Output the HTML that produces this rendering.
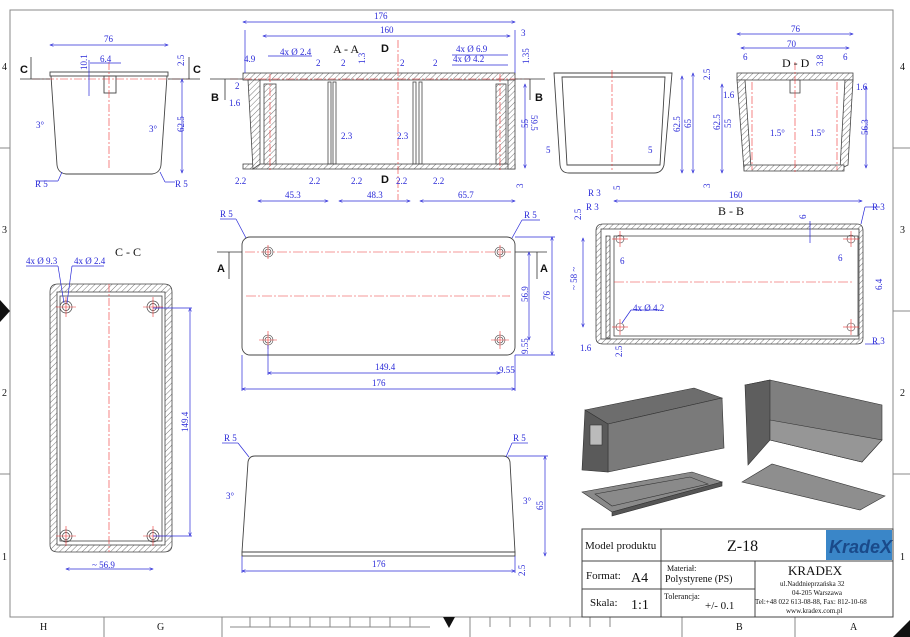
<!DOCTYPE html>
<html><head><meta charset="utf-8"><style>
html,body{margin:0;padding:0;background:#fff;}
svg{display:block;font-family:"Liberation Serif",serif;}
.d{fill:#2a2ad8;font-size:9px;}
.k{fill:#111;}
</style></head><body>
<svg width="910" height="637" viewBox="0 0 910 637" xmlns="http://www.w3.org/2000/svg">
<defs>
<pattern id="h" width="4" height="4" patternUnits="userSpaceOnUse" patternTransform="rotate(45)">
<rect width="4" height="4" fill="#fff"/><line x1="0" y1="0" x2="0" y2="4" stroke="#555" stroke-width="0.8"/></pattern>
<marker id="a" markerWidth="6" markerHeight="6" refX="5" refY="3" orient="auto-start-reverse"><path d="M0,1 L5,3 L0,5" fill="none" stroke="#2a2ad8" stroke-width="0.8"/></marker>
</defs>
<!-- frame -->
<rect x="10" y="10" width="883" height="607" fill="none" stroke="#888" stroke-width="1"/>
<g stroke="#888" stroke-width="1">
<line x1="0" y1="148" x2="10" y2="148"/><line x1="0" y1="311" x2="10" y2="311"/><line x1="0" y1="474" x2="10" y2="474"/>
<line x1="893" y1="148" x2="910" y2="148"/><line x1="893" y1="311" x2="910" y2="311"/><line x1="893" y1="474" x2="910" y2="474"/>
<line x1="104" y1="617" x2="104" y2="637"/><line x1="222" y1="617" x2="222" y2="637"/><line x1="682" y1="617" x2="682" y2="637"/><line x1="795" y1="617" x2="795" y2="637"/>
<line x1="230" y1="627" x2="430" y2="627"/>
<line x1="250" y1="617" x2="250" y2="627"/><line x1="270" y1="617" x2="270" y2="627"/><line x1="290" y1="617" x2="290" y2="627"/><line x1="310" y1="617" x2="310" y2="627"/><line x1="330" y1="617" x2="330" y2="627"/><line x1="350" y1="617" x2="350" y2="627"/><line x1="370" y1="617" x2="370" y2="627"/><line x1="390" y1="617" x2="390" y2="627"/><line x1="410" y1="617" x2="410" y2="627"/>
<line x1="470" y1="617" x2="470" y2="637"/><line x1="490" y1="617" x2="490" y2="627"/><line x1="510" y1="617" x2="510" y2="627"/><line x1="530" y1="617" x2="530" y2="627"/><line x1="550" y1="617" x2="550" y2="627"/><line x1="570" y1="617" x2="570" y2="627"/><line x1="590" y1="617" x2="590" y2="627"/><line x1="610" y1="617" x2="610" y2="627"/>
</g>
<g class="k" font-size="10">
<text x="2" y="70">4</text><text x="2" y="233">3</text><text x="2" y="396">2</text><text x="2" y="560">1</text>
<text x="900" y="70">4</text><text x="900" y="233">3</text><text x="900" y="396">2</text><text x="900" y="560">1</text>
<text x="40" y="630">H</text><text x="157" y="630">G</text><text x="736" y="630">B</text><text x="850" y="630">A</text>
</g>
<path d="M0,300 L10,311 L0,322Z" fill="#111"/><path d="M443,617 L455,617 L449,628Z" fill="#111"/>
<path d="M893,637 L910,620 L910,637Z" fill="#111"/>

<!-- View 1: end view -->
<g fill="none" stroke="#444" stroke-width="0.9">
<rect x="50" y="72" width="118" height="4"/>
<path d="M51,76 L57,165 Q58,173 66,174 L152,174 Q160,173 161,165 L167,76"/>
<rect x="104" y="76" width="12" height="17"/>
</g>
<g stroke="#e33" stroke-width="0.6" stroke-dasharray="8,2,2,2"><line x1="32" y1="79" x2="190" y2="79"/><line x1="109" y1="62" x2="109" y2="170"/></g>
<g stroke="#333" stroke-width="0.8"><line x1="20" y1="79" x2="50" y2="79"/><line x1="168" y1="79" x2="200" y2="79"/><line x1="31" y1="57" x2="31" y2="79"/><line x1="189" y1="57" x2="189" y2="79"/></g>
<text x="20" y="73" class="k" font-weight="bold" font-size="11" font-family="Liberation Sans">C</text><text x="193" y="73" class="k" font-weight="bold" font-size="11" font-family="Liberation Sans">C</text>
<g stroke="#2a2ad8" stroke-width="0.7" fill="none">
<line x1="50" y1="45" x2="168" y2="45" marker-start="url(#a)" marker-end="url(#a)"/>
<line x1="182" y1="79" x2="182" y2="173" marker-start="url(#a)" marker-end="url(#a)"/>
<line x1="90" y1="63" x2="121" y2="63"/><line x1="89" y1="60" x2="89" y2="96"/>
<line x1="36" y1="181" x2="58" y2="181"/><line x1="58" y1="181" x2="62" y2="172"/>
<line x1="165" y1="182" x2="175" y2="182"/><line x1="165" y1="182" x2="160" y2="172"/>
</g>
<g class="d"><text x="104" y="42">76</text><text x="100" y="62">6.4</text><text x="35" y="187">R 5</text><text x="175" y="187">R 5</text><text x="36" y="128">3°</text><text x="149" y="132">3°</text>
<text transform="translate(184,132) rotate(-90)">62.5</text><text transform="translate(87,70) rotate(-90)">10.1</text><text transform="translate(184,66) rotate(-90)">2.5</text></g>

<!-- A-A section -->
<g stroke="#444" stroke-width="0.8">
<rect x="243" y="73" width="272" height="7" fill="url(#h)"/>
<rect x="243" y="164" width="272" height="5" fill="url(#h)"/>
<path d="M248,80 L260,80 L260,164 L253,169 Z" fill="url(#h)"/>
<rect x="264" y="84" width="12" height="80" fill="url(#h)"/>
<rect x="496" y="84" width="10" height="80" fill="url(#h)"/>
<path d="M508,80 L515,80 L515,169 L508,169 Z" fill="url(#h)"/>
<g fill="none"><rect x="328" y="82" width="3" height="82"/><rect x="333" y="82" width="3" height="82"/><rect x="413" y="82" width="3" height="82"/><rect x="419" y="82" width="3" height="82"/></g>
</g>
<g stroke="#e33" stroke-width="0.6" stroke-dasharray="8,2,2,2"><line x1="230" y1="79" x2="530" y2="79"/><line x1="270" y1="74" x2="270" y2="170"/><line x1="500" y1="74" x2="500" y2="170"/><line x1="398" y1="40" x2="398" y2="200"/></g>
<g stroke="#333" stroke-width="0.8"><line x1="210" y1="79" x2="243" y2="79"/><line x1="515" y1="79" x2="545" y2="79"/><line x1="225" y1="79" x2="225" y2="100"/><line x1="530" y1="79" x2="530" y2="100"/></g>
<g class="k" font-weight="bold" font-size="11" font-family="Liberation Sans"><text x="211" y="101">B</text><text x="535" y="101">B</text><text x="381" y="52">D</text><text x="381" y="183">D</text></g>
<text x="333" y="53" class="k" font-size="12">A - A</text>
<g stroke="#2a2ad8" stroke-width="0.7" fill="none">
<line x1="243" y1="22" x2="515" y2="22" marker-start="url(#a)" marker-end="url(#a)"/>
<line x1="263" y1="36" x2="510" y2="36" marker-start="url(#a)" marker-end="url(#a)"/>
<line x1="258" y1="201" x2="328" y2="201" marker-start="url(#a)" marker-end="url(#a)"/>
<line x1="339" y1="201" x2="410" y2="201" marker-start="url(#a)" marker-end="url(#a)"/>
<line x1="420" y1="201" x2="515" y2="201" marker-start="url(#a)" marker-end="url(#a)"/>
<line x1="525" y1="84" x2="525" y2="168" marker-start="url(#a)" marker-end="url(#a)"/>
<line x1="245" y1="73" x2="245" y2="30"/><line x1="515" y1="73" x2="515" y2="30"/>
<line x1="268" y1="56" x2="312" y2="56"/><line x1="452" y1="55" x2="508" y2="55"/><line x1="452" y1="65" x2="508" y2="65"/>
</g>
<g class="d"><text x="374" y="19">176</text><text x="380" y="33">160</text><text x="280" y="55">4x Ø 2.4</text><text x="456" y="52">4x Ø 6.9</text><text x="453" y="62">4x Ø 4.2</text>
<text x="521" y="36">3</text><text x="244" y="62">4.9</text><text x="316" y="66">2</text><text x="341" y="66">2</text><text x="400" y="66">2</text><text x="433" y="66">2</text>
<text x="235" y="89">2</text><text x="229" y="106">1.6</text><text x="341" y="139">2.3</text><text x="397" y="139">2.3</text>
<text x="235" y="184">2.2</text><text x="309" y="184">2.2</text><text x="351" y="184">2.2</text><text x="396" y="184">2.2</text><text x="433" y="184">2.2</text>
<text x="285" y="198">45.3</text><text x="367" y="198">48.3</text><text x="458" y="198">65.7</text>
<text transform="translate(528,128) rotate(-90)">55</text><text transform="translate(531,115) rotate(90)">59.5</text>
<text transform="translate(529,64) rotate(-90)">1.35</text><text transform="translate(365,64) rotate(-90)">1.3</text><text transform="translate(523,188) rotate(-90)">3</text></g>

<!-- right end view -->
<g fill="none" stroke="#444" stroke-width="0.9">
<path d="M554,73 L672,73 L664,165 Q662,173 654,173 L569,173 Q561,173 560,165 Z"/>
<path d="M562,77 L665,77 L660,165 L567,165 Z"/>
</g>
<line x1="612" y1="70" x2="612" y2="170" stroke="#e33" stroke-width="0.6" stroke-dasharray="8,2,2,2"/>
<g stroke="#2a2ad8" stroke-width="0.7" fill="none"><line x1="682" y1="76" x2="682" y2="173" marker-start="url(#a)" marker-end="url(#a)"/><line x1="693" y1="73" x2="693" y2="173" marker-start="url(#a)" marker-end="url(#a)"/></g>
<g class="d"><text x="546" y="153">5</text><text x="648" y="153">5</text><text transform="translate(680,132) rotate(-90)">62.5</text><text transform="translate(691,128) rotate(-90)">65</text><text transform="translate(620,190) rotate(-90)">5</text></g>

<!-- D-D -->
<g stroke="#444" stroke-width="0.8">
<rect x="737" y="73" width="116" height="7" fill="url(#h)"/>
<path d="M737,80 L745,80 L751,168 L744,170 Z" fill="url(#h)"/>
<path d="M845,80 L853,80 L848,165 L840,169 Z" fill="url(#h)"/>
<rect x="744" y="165" width="100" height="6" fill="url(#h)"/>
<rect x="790" y="80" width="10" height="13" fill="none"/>
</g>
<g stroke="#e33" stroke-width="0.6" stroke-dasharray="8,2,2,2"><line x1="795" y1="62" x2="795" y2="172"/><line x1="752" y1="82" x2="752" y2="170"/><line x1="837" y1="82" x2="837" y2="170"/></g>
<g stroke="#2a2ad8" stroke-width="0.7" fill="none">
<line x1="737" y1="34" x2="853" y2="34" marker-start="url(#a)" marker-end="url(#a)"/>
<line x1="741" y1="48" x2="849" y2="48" marker-start="url(#a)" marker-end="url(#a)"/>
<line x1="722" y1="84" x2="722" y2="173" marker-start="url(#a)" marker-end="url(#a)"/>
<line x1="866" y1="86" x2="866" y2="168" marker-start="url(#a)" marker-end="url(#a)"/>
</g>
<text x="782" y="67" class="k" font-size="12">D - D</text>
<g class="d"><text x="791" y="32">76</text><text x="787" y="47">70</text><text x="743" y="60">6</text><text x="843" y="60">6</text><text x="723" y="98">1.6</text><text x="856" y="90">1.6</text>
<text x="770" y="136">1.5°</text><text x="810" y="136">1.5°</text>
<text transform="translate(710,80) rotate(-90)">2.5</text><text transform="translate(720,130) rotate(-90)">62.5</text><text transform="translate(731,128) rotate(-90)">55</text><text transform="translate(868,135) rotate(-90)">56.3</text><text transform="translate(823,66) rotate(-90)">3.8</text><text transform="translate(710,188) rotate(-90)">3</text></g>

<!-- C-C -->
<text x="115" y="256" class="k" font-size="12">C - C</text>
<g stroke="#444" stroke-width="0.8">
<path d="M50,292 Q50,284 58,284 L164,284 Q172,284 172,292 L172,545 Q172,552 164,552 L58,552 Q50,552 50,545 Z" fill="url(#h)"/>
<rect x="57" y="292" width="108" height="253" fill="#fff"/>
<rect x="60" y="296" width="102" height="245" fill="none"/>
</g>
<g fill="none" stroke="#444" stroke-width="0.7">
<circle cx="66" cy="307" r="6"/><circle cx="66" cy="307" r="3.5"/><circle cx="153" cy="307" r="6"/><circle cx="153" cy="307" r="3.5"/>
<circle cx="66" cy="536" r="6"/><circle cx="66" cy="536" r="3.5"/><circle cx="153" cy="536" r="6"/><circle cx="153" cy="536" r="3.5"/>
</g>
<g stroke="#e33" stroke-width="0.6"><line x1="109" y1="284" x2="109" y2="552" stroke-dasharray="8,2,2,2"/>
<line x1="56" y1="307" x2="76" y2="307"/><line x1="66" y1="297" x2="66" y2="317"/><line x1="143" y1="307" x2="163" y2="307"/><line x1="153" y1="297" x2="153" y2="317"/>
<line x1="56" y1="536" x2="76" y2="536"/><line x1="66" y1="526" x2="66" y2="546"/><line x1="143" y1="536" x2="163" y2="536"/><line x1="153" y1="526" x2="153" y2="546"/></g>
<g stroke="#2a2ad8" stroke-width="0.7" fill="none"><line x1="26" y1="266" x2="58" y2="266"/><line x1="58" y1="266" x2="64" y2="303"/><line x1="72" y1="266" x2="104" y2="266"/><line x1="72" y1="266" x2="67" y2="303"/>
<line x1="190" y1="308" x2="190" y2="536" marker-start="url(#a)" marker-end="url(#a)"/><line x1="153" y1="308" x2="192" y2="308"/><line x1="153" y1="536" x2="192" y2="536"/>
<line x1="66" y1="569" x2="153" y2="569" marker-start="url(#a)" marker-end="url(#a)"/></g>
<g class="d"><text x="26" y="264">4x Ø 9.3</text><text x="74" y="264">4x Ø 2.4</text><text transform="translate(188,432) rotate(-90)">149.4</text><text x="92" y="568">~ 56.9</text></g>

<!-- plan view -->
<rect x="242" y="237" width="273" height="118" rx="8" fill="none" stroke="#444" stroke-width="0.9"/>
<g stroke="#e33" stroke-width="0.6" stroke-dasharray="10,2,2,2"><line x1="245" y1="252" x2="512" y2="252"/><line x1="246" y1="296" x2="510" y2="296"/></g>
<g fill="none" stroke="#444" stroke-width="0.6">
<circle cx="268" cy="252" r="5"/><circle cx="268" cy="252" r="3"/><circle cx="500" cy="252" r="5"/><circle cx="500" cy="252" r="3"/>
<circle cx="268" cy="340" r="5"/><circle cx="268" cy="340" r="3"/><circle cx="500" cy="340" r="5"/><circle cx="500" cy="340" r="3"/></g>
<g stroke="#e33" stroke-width="0.6"><line x1="259" y1="340" x2="277" y2="340"/><line x1="268" y1="331" x2="268" y2="349"/><line x1="491" y1="340" x2="509" y2="340"/><line x1="500" y1="331" x2="500" y2="349"/><line x1="268" y1="245" x2="268" y2="259"/><line x1="500" y1="245" x2="500" y2="259"/></g>
<g stroke="#333" stroke-width="0.8"><line x1="217" y1="252" x2="242" y2="252"/><line x1="515" y1="252" x2="547" y2="252"/><line x1="229" y1="252" x2="229" y2="279"/><line x1="537" y1="252" x2="537" y2="279"/></g>
<g class="k" font-weight="bold" font-size="11" font-family="Liberation Sans"><text x="217" y="272">A</text><text x="540" y="272">A</text></g>
<g stroke="#2a2ad8" stroke-width="0.7" fill="none">
<line x1="268" y1="373" x2="500" y2="373" marker-start="url(#a)" marker-end="url(#a)"/><line x1="268" y1="345" x2="268" y2="375"/>
<line x1="242" y1="389" x2="515" y2="389" marker-start="url(#a)" marker-end="url(#a)"/><line x1="242" y1="355" x2="242" y2="391"/><line x1="515" y1="355" x2="515" y2="391"/>
<line x1="529" y1="252" x2="529" y2="340" marker-start="url(#a)" marker-end="url(#a)"/>
<line x1="552" y1="237" x2="552" y2="355" marker-start="url(#a)" marker-end="url(#a)"/><line x1="515" y1="237" x2="555" y2="237"/><line x1="515" y1="355" x2="555" y2="355"/>
<line x1="220" y1="219" x2="236" y2="219"/><line x1="236" y1="219" x2="246" y2="238"/><line x1="522" y1="220" x2="540" y2="220"/><line x1="522" y1="220" x2="512" y2="238"/>
</g>
<g class="d"><text x="220" y="217">R 5</text><text x="524" y="218">R 5</text><text x="375" y="370">149.4</text><text x="372" y="386">176</text><text x="499" y="373">9.55</text>
<text transform="translate(528,302) rotate(-90)">56.9</text><text transform="translate(550,300) rotate(-90)">76</text><text transform="translate(528,354) rotate(-90)">9.55</text></g>

<!-- front view bottom -->
<g fill="none" stroke="#444" stroke-width="0.9">
<path d="M242,552 L248,462 Q249,456 255,456 L503,456 Q509,456 510,462 L515,552 Z"/>
<rect x="242" y="552" width="273" height="4"/>
</g>
<g stroke="#2a2ad8" stroke-width="0.7" fill="none">
<line x1="242" y1="571" x2="515" y2="571" marker-start="url(#a)" marker-end="url(#a)"/><line x1="242" y1="556" x2="242" y2="573"/><line x1="515" y1="556" x2="515" y2="573"/>
<line x1="545" y1="456" x2="545" y2="556" marker-start="url(#a)" marker-end="url(#a)"/><line x1="508" y1="456" x2="548" y2="456"/>
<line x1="222" y1="443" x2="238" y2="443"/><line x1="238" y1="443" x2="249" y2="457"/><line x1="512" y1="443" x2="528" y2="443"/><line x1="512" y1="443" x2="506" y2="457"/>
</g>
<g class="d"><text x="224" y="441">R 5</text><text x="513" y="441">R 5</text><text x="372" y="567">176</text><text x="226" y="499">3°</text><text x="523" y="504">3°</text>
<text transform="translate(543,510) rotate(-90)">65</text><text transform="translate(525,576) rotate(-90)">2.5</text></g>

<!-- B-B -->
<text x="718" y="215" class="k" font-size="12">B - B</text>
<g stroke="#444" stroke-width="0.8">
<path d="M596,231 Q596,224 603,224 L857,224 Q863,224 863,231 L863,338 Q863,344 857,344 L603,344 Q596,344 596,338 Z" fill="url(#h)"/>
<rect x="601" y="229" width="258" height="110" fill="#fff"/>
<rect x="606" y="236" width="4" height="102" fill="url(#h)"/>
<rect x="614" y="236" width="244" height="100" fill="none"/>
</g>
<g fill="none" stroke="#444" stroke-width="0.6"><circle cx="620" cy="239" r="4"/><circle cx="851" cy="239" r="4"/><circle cx="620" cy="327" r="4"/><circle cx="851" cy="327" r="4"/></g>
<g stroke="#e33" stroke-width="0.6"><line x1="614" y1="282" x2="853" y2="282" stroke-dasharray="10,2,2,2"/>
<line x1="612" y1="239" x2="628" y2="239"/><line x1="620" y1="231" x2="620" y2="247"/><line x1="843" y1="239" x2="859" y2="239"/><line x1="851" y1="231" x2="851" y2="247"/>
<line x1="612" y1="327" x2="628" y2="327"/><line x1="620" y1="319" x2="620" y2="335"/><line x1="843" y1="327" x2="859" y2="327"/><line x1="851" y1="319" x2="851" y2="335"/></g>
<g stroke="#2a2ad8" stroke-width="0.7" fill="none">
<line x1="614" y1="201" x2="862" y2="201" marker-start="url(#a)" marker-end="url(#a)"/>
<line x1="583" y1="238" x2="583" y2="327" marker-start="url(#a)" marker-end="url(#a)"/>
<line x1="810" y1="221" x2="810" y2="243"/>
<line x1="631" y1="310" x2="660" y2="310"/><line x1="631" y1="310" x2="622" y2="323"/>
<line x1="865" y1="207" x2="880" y2="207"/><line x1="865" y1="207" x2="861" y2="224"/><line x1="865" y1="344" x2="880" y2="344"/>
</g>
<g class="d"><text x="729" y="198">160</text><text x="588" y="196">R 3</text><text x="586" y="210">R 3</text><text x="872" y="210">R 3</text><text x="872" y="344">R 3</text>
<text x="620" y="264">6</text><text x="838" y="261">6</text><text x="633" y="311">4x Ø 4.2</text><text x="580" y="351">1.6</text>
<text transform="translate(577,290) rotate(-90)">~ 58 ~</text><text transform="translate(806,219) rotate(-90)">6</text><text transform="translate(882,290) rotate(-90)">6.4</text>
<text transform="translate(581,220) rotate(-90)">2.5</text><text transform="translate(622,357) rotate(-90)">2.5</text></g>

<!-- 3D renderings -->
<g stroke="#333" stroke-width="0.6">
<path d="M585,410 L694,388 L722,398 L608,424 Z" fill="#6d6d6d"/>
<path d="M608,424 L722,398 L724,448 L608,472 Z" fill="#7a7a7a"/>
<path d="M585,410 L608,424 L608,472 L582,470 Z" fill="#5a5a5a"/>
<rect x="590" y="425" width="12" height="20" fill="#bbb"/>
<path d="M582,492 L692,472 L722,482 L612,512 Z" fill="#8a8a8a"/>
<path d="M612,512 L722,482 L722,486 L612,516 Z" fill="#555"/>
<path d="M595,494 L690,477 L708,484 L612,506 Z" fill="none"/>
<path d="M745,385 L770,380 L882,405 L882,440 L862,462 L770,440 Z" fill="#7f7f7f"/>
<path d="M745,385 L770,380 L770,440 L748,465 Z" fill="#5e5e5e"/>
<path d="M770,420 L882,440 L862,462 L770,440 Z" fill="#969696"/>
<path d="M742,482 L772,464 L885,496 L860,510 Z" fill="#8e8e8e"/>
</g>

<!-- title block -->
<g fill="none" stroke="#444" stroke-width="1">
<rect x="582" y="529" width="311" height="88"/>
<line x1="582" y1="561" x2="893" y2="561"/><line x1="582" y1="589" x2="661" y2="589"/>
<line x1="661" y1="529" x2="661" y2="617"/><line x1="755" y1="561" x2="755" y2="617"/><line x1="661" y1="589" x2="755" y2="589"/>
</g>
<rect x="826" y="530" width="66" height="30" fill="#3a86c8"/>
<text x="829" y="553" fill="#1a4a8a" font-family="Liberation Sans" font-weight="bold" font-size="18" font-style="italic">KradeX</text>
<g class="k">
<text x="585" y="549" font-size="11">Model produktu</text>
<text x="727" y="551" font-size="16">Z-18</text>
<text x="586" y="579" font-size="11">Format:</text><text x="631" y="582" font-size="14">A4</text>
<text x="590" y="606" font-size="11">Skala:</text><text x="631" y="609" font-size="14">1:1</text>
<text x="667" y="571" font-size="8">Materiał:</text><text x="665" y="582" font-size="10">Polystyrene (PS)</text>
<text x="664" y="599" font-size="8">Tolerancja:</text><text x="705" y="609" font-size="11">+/- 0.1</text>
<text x="788" y="575" font-size="13">KRADEX</text>
<text x="780" y="586" font-size="7">ul.Naddnieprzańska 32</text>
<text x="792" y="595" font-size="7">04-205 Warszawa</text>
<text x="755" y="604" font-size="7">Tel:+48 022 613-08-88, Fax: 812-10-68</text>
<text x="786" y="613" font-size="7">www.kradex.com.pl</text>
</g>
</svg>
</body></html>
